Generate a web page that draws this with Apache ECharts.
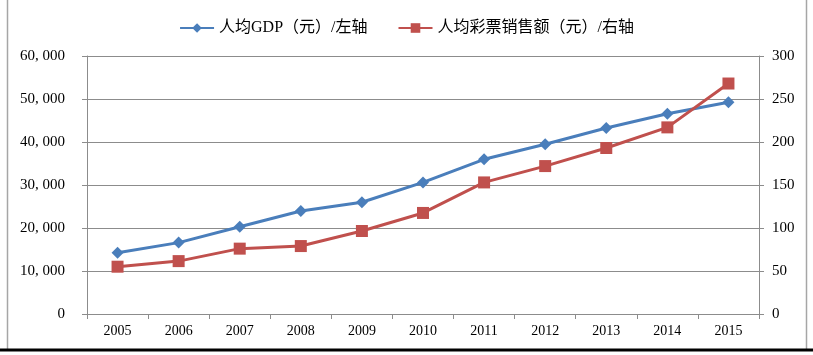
<!DOCTYPE html>
<html><head><meta charset="utf-8">
<script src="https://cdn.jsdelivr.net/npm/echarts@6/dist/echarts.min.js"></script>
<style>html,body{margin:0;padding:0;background:#fff}#c{width:813px;height:355px}</style>
</head><body><div id="c"></div>
<script>
const categories = ['2005','2006','2007','2008','2009','2010','2011','2012','2013','2014','2015'];
const gdpPerCapita = [14250, 16600, 20300, 23950, 25980, 30600, 35980, 39470, 43260, 46580, 49230];
const lotteryPerCapita = [55, 61.5, 76, 79, 96.5, 117.5, 153, 172, 193, 217, 268];
const leftTicks = [0, 10000, 20000, 30000, 40000, 50000, 60000];
const rightTicks = [0, 50, 100, 150, 200, 250, 300];
const seriesNames = ['人均GDP（元）/左轴', '人均彩票销售额（元）/右轴'];

const FONT = '"Liberation Serif", "Noto Sans CJK SC", serif';
const chart = echarts.init(document.getElementById('c'), null, {renderer: 'canvas'});
function fmtThousands(v){
  const s = String(v);
  if (v >= 1000) return s.slice(0, s.length-3) + ', ' + s.slice(s.length-3);
  return s;
}
chart.setOption({
  animation: false,
  backgroundColor: '#fff',
  graphic: [
    {type:'line', shape:{x1:7.5,y1:0,x2:7.5,y2:349}, style:{stroke:'#a6a6a6', lineWidth:1.5}},
    {type:'line', shape:{x1:806.5,y1:0,x2:806.5,y2:349}, style:{stroke:'#a6a6a6', lineWidth:1.5}},
    {type:'line', shape:{x1:0,y1:350,x2:813,y2:350}, style:{stroke:'#000', lineWidth:3}}
  ],
  legend: {
    top: 15, left: 'center',
    itemWidth: 34, itemHeight: 12, itemGap: 30,
    textStyle: {fontFamily: FONT, fontSize: 16, color: '#000'},
    data: seriesNames
  },
  grid: {left: 87, right: 54, top: 56, bottom: 41, containLabel: false},
  xAxis: {
    type: 'category', data: categories, boundaryGap: true,
    axisLine: {lineStyle: {color: '#8c8c8c', width: 1}},
    axisTick: {show: true, length: 5, alignWithLabel: false, lineStyle: {color: '#8c8c8c'}},
    axisLabel: {fontFamily: FONT, fontSize: 14, color: '#000', margin: 10}
  },
  yAxis: [
    {
      type: 'value', min: leftTicks[0], max: leftTicks[leftTicks.length-1], interval: 10000,
      axisLine: {show: true, lineStyle: {color: '#8c8c8c'}},
      axisTick: {show: true, length: 5, lineStyle: {color: '#8c8c8c'}},
      splitLine: {show: true, lineStyle: {color: '#8c8c8c', width: 1}},
      axisLabel: {fontFamily: FONT, fontSize: 15, color: '#000', margin: 22, formatter: fmtThousands}
    },
    {
      type: 'value', min: rightTicks[0], max: rightTicks[rightTicks.length-1], interval: 50,
      position: 'right',
      axisLine: {show: true, lineStyle: {color: '#8c8c8c'}},
      axisTick: {show: true, length: 5, lineStyle: {color: '#8c8c8c'}},
      splitLine: {show: false},
      axisLabel: {fontFamily: FONT, fontSize: 15, color: '#000', margin: 13}
    }
  ],
  series: [
    {
      name: seriesNames[0], type: 'line', yAxisIndex: 0, data: gdpPerCapita,
      symbol: 'diamond', symbolSize: 12,
      lineStyle: {color: '#4a7ebb', width: 3},
      itemStyle: {color: '#4a7ebb'}
    },
    {
      name: seriesNames[1], type: 'line', yAxisIndex: 1, data: lotteryPerCapita,
      symbol: 'rect', symbolSize: 12,
      lineStyle: {color: '#c0504d', width: 3},
      itemStyle: {color: '#c0504d'}
    }
  ]
});
</script></body></html>
